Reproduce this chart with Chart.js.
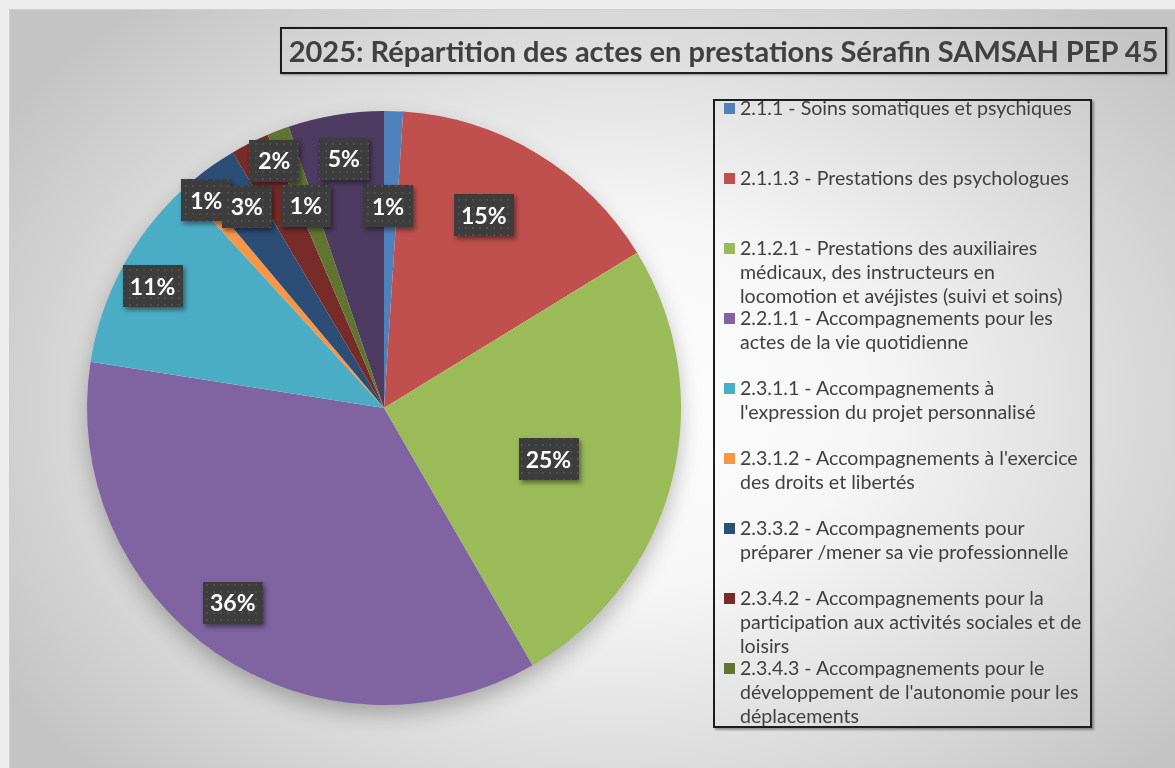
<!DOCTYPE html>
<html lang="fr">
<head>
<meta charset="utf-8">
<script src="https://cdn.jsdelivr.net/npm/chart.js@4.4.1/dist/chart.umd.min.js"></script>
<style>
  html, body { margin: 0; padding: 0; width: 1175px; height: 768px; overflow: hidden; background: #ededed; }
  #panel { position: absolute; left: 9px; top: 9px; width: 1166px; height: 759px;
    background: radial-gradient(ellipse 62% 70% at 52% 52%, #ffffff 0%, #f6f6f6 35%, #c4c4c4 100%);
    border-top: 1px solid #d0d0d0; border-left: 1px solid #d0d0d0; box-sizing: border-box; }
  #chartWrap { position: absolute; left: 0; top: 0; width: 1175px; height: 768px; }
  #title { position: absolute; left: 280px; top: 27px; width: 887px; height: 47px; box-sizing: border-box;
    border: 2px solid #1c1c1c; box-shadow: 1px 1px 2px rgba(0,0,0,0.35);
    font-family: Lato, "Open Sans", sans-serif; font-weight: bold; color: #404040;
    display: flex; align-items: center; justify-content: center; white-space: nowrap; }
  #title span { display: inline-block; font-size: 26px; }
  #legend { position: absolute; left: 713px; top: 99px; width: 379px; height: 629px; box-sizing: border-box;
    border: 2px solid #1c1c1c; box-shadow: 2px 2px 2px rgba(0,0,0,0.35); overflow: hidden;
    font-family: Lato, "Open Sans", sans-serif; color: #404040; }
  .item { position: absolute; left: 9px; white-space: nowrap; }
  .swatch { position: absolute; left: 0; width: 11px; height: 11px; }
  .txt { position: absolute; left: 16px; line-height: 24px; font-size: 18px; }
</style>
</head>
<body>
<div id="panel"></div>
<div id="chartWrap"><canvas id="c" width="1175" height="768"></canvas></div>
<div id="title"><span id="titleText"></span></div>
<div id="legend"></div>
<script>
// ---- data ----
const chartTitle = "2025: Répartition des actes en prestations Sérafin SAMSAH PEP 45";
const categories = [
  ["2.1.1 - Soins somatiques et psychiques"],
  ["2.1.1.3 - Prestations des psychologues"],
  ["2.1.2.1 - Prestations des auxiliaires", "médicaux, des instructeurs en", "locomotion et avéjistes (suivi et soins)"],
  ["2.2.1.1 - Accompagnements pour les", "actes de la vie quotidienne"],
  ["2.3.1.1 - Accompagnements à", "l'expression du projet personnalisé"],
  ["2.3.1.2 - Accompagnements à l'exercice", "des droits et libertés"],
  ["2.3.3.2 - Accompagnements pour", "préparer /mener sa vie professionnelle"],
  ["2.3.4.2 - Accompagnements pour la", "participation aux activités sociales et de", "loisirs"],
  ["2.3.4.3 - Accompagnements pour le", "développement de l'autonomie pour les", "déplacements"],
  ["Autres"]
];
const shares = [1.03, 15.2, 25.4, 35.8, 10.7, 0.7, 2.6, 2.1, 1.2, 5.2];
const colors = ["#4F81BD", "#C0504D", "#9BBB59", "#8064A2", "#4BACC6", "#F79646", "#2C4D75", "#772C2A", "#5F7530", "#4D3B62"];
// label placement (fraction of radius, angle shift in degrees)
const labelRadius = [0.68, 0.73, 0.58, 0.83, 0.88, 0.92, 0.82, 0.91, 0.73, 0.85];
const labelShift = [-0.7, -3.7, 3.1, 3.4, -0.5, 0.7, 1.0, 2.9, -0.2, 0.2];
const legendShown = 9;

// ---- title ----
const tt = document.getElementById('titleText');
tt.textContent = chartTitle;

// ---- legend ----
const lg = document.getElementById('legend');
for (let i = 0; i < legendShown; i++) {
  const it = document.createElement('div');
  it.className = 'item';
  it.style.top = (-5 + i * 70) + 'px';
  const sw = document.createElement('div');
  sw.className = 'swatch';
  sw.style.background = colors[i];
  sw.style.top = '7px';
  const tx = document.createElement('div');
  tx.className = 'txt';
  tx.innerHTML = categories[i].map(s => s.replace(/&/g,'&amp;').replace(/</g,'&lt;')).join('<br>');
  it.appendChild(sw); it.appendChild(tx);
  lg.appendChild(it);
}

function fitFonts() {
  tt.style.fontSize = '26px';
  let w = tt.getBoundingClientRect().width;
  tt.style.fontSize = (26 * 870 / w) + 'px';
  const probe = document.createElement('span');
  probe.style.cssText = 'position:absolute;visibility:hidden;white-space:nowrap;font-family:Lato,"Open Sans",sans-serif;font-size:18px;';
  probe.textContent = categories[0][0];
  document.body.appendChild(probe);
  const pw = probe.getBoundingClientRect().width;
  document.body.removeChild(probe);
  const fs = 18 * 332 / pw;
  document.querySelectorAll('.txt').forEach(e => e.style.fontSize = fs + 'px');
}

// ---- chart ----
const dotPattern = (() => {
  const p = document.createElement('canvas'); p.width = 7; p.height = 7;
  const g = p.getContext('2d');
  g.fillStyle = '#3d3d3d'; g.fillRect(0, 0, 7, 7);
  g.fillStyle = '#4f4f4f'; g.fillRect(3, 3, 2, 2);
  return p;
})();

const pieShadow = {
  id: 'pieShadow',
  beforeDatasetsDraw(chart) {
    const a = chart.getDatasetMeta(0).data[0];
    if (!a) return;
    const ctx = chart.ctx;
    ctx.save();
    ctx.shadowColor = 'rgba(0,0,0,0.28)';
    ctx.shadowBlur = 22;
    ctx.shadowOffsetY = 10;
    ctx.fillStyle = '#ffffff';
    ctx.beginPath();
    ctx.arc(a.x, a.y, a.outerRadius - 1, 0, Math.PI * 2);
    ctx.fill();
    ctx.restore();
  }
};

const pctLabels = {
  id: 'pctLabels',
  afterDatasetsDraw(chart) {
    const meta = chart.getDatasetMeta(0);
    const ctx = chart.ctx;
    const data = chart.data.datasets[0].data;
    const total = data.reduce((s, v) => s + v, 0);
    const pat = ctx.createPattern(dotPattern, 'repeat');
    const font = 'bold 23px Lato, "Open Sans", sans-serif';
    meta.data.forEach((arc, i) => {
      const p = arc.getProps(['x', 'y', 'startAngle', 'endAngle', 'outerRadius'], true);
      const mid = (p.startAngle + p.endAngle) / 2 + labelShift[i] * Math.PI / 180;
      const r = p.outerRadius * labelRadius[i];
      const cx = p.x + Math.cos(mid) * r;
      const cy = p.y + Math.sin(mid) * r;
      const txt = Math.round(data[i] / total * 100) + '%';
      ctx.save();
      ctx.font = font;
      const tw = ctx.measureText(txt).width;
      const bw = Math.max(50, tw + 14), bh = 42;
      ctx.shadowColor = 'rgba(0,0,0,0.45)';
      ctx.shadowBlur = 5;
      ctx.shadowOffsetX = 2;
      ctx.shadowOffsetY = 3;
      ctx.fillStyle = pat;
      ctx.fillRect(Math.round(cx - bw / 2), Math.round(cy - bh / 2), Math.round(bw), bh);
      ctx.restore();
      ctx.save();
      ctx.font = font;
      ctx.fillStyle = '#ffffff';
      ctx.textAlign = 'center';
      ctx.textBaseline = 'middle';
      ctx.fillText(txt, cx, cy + 1);
      ctx.restore();
    });
  }
};

function draw() {
  fitFonts();
  new Chart(document.getElementById('c'), {
    type: 'pie',
    data: {
      labels: categories,
      datasets: [{ data: shares, backgroundColor: colors, borderWidth: 0, hoverOffset: 0 }]
    },
    options: {
      responsive: false,
      animation: false,
      events: [],
      layout: { padding: { left: 87, top: 111, right: 494, bottom: 63 } },
      plugins: { legend: { display: false }, tooltip: { enabled: false }, title: { display: false } }
    },
    plugins: [pieShadow, pctLabels]
  });
}
if (document.fonts && document.fonts.ready) {
  Promise.all([document.fonts.load('bold 23px Lato'), document.fonts.load('18px Lato')]).then(draw, draw);
} else { draw(); }
</script>
</body>
</html>
